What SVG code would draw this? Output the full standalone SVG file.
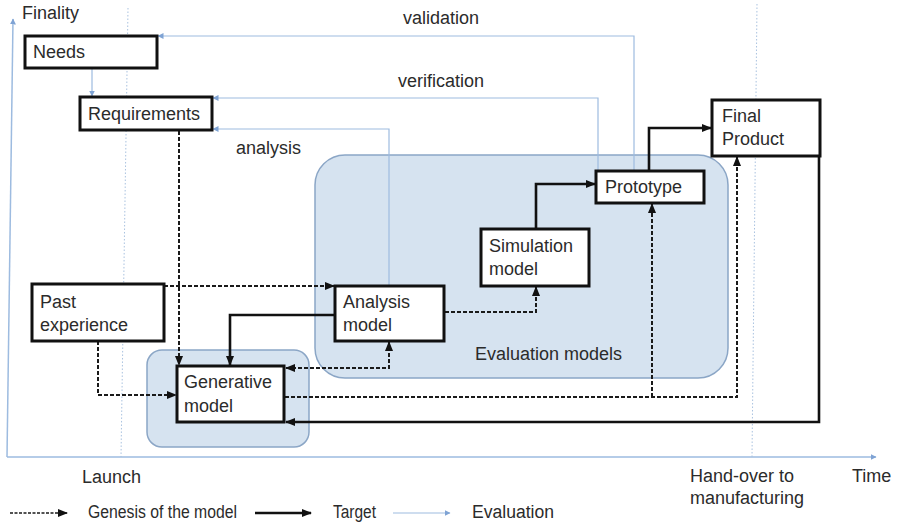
<svg xmlns="http://www.w3.org/2000/svg" width="898" height="527" viewBox="0 0 898 527">
  <style>
    text { font-family: "Liberation Sans", Arial, sans-serif; font-size: 18px; fill: #2b2b2b; }
    .box { fill: #ffffff; stroke: #111111; stroke-width: 3; }
    .zone { fill: #d6e3f0; stroke: #8ba6c6; stroke-width: 1.5; }
    .eval { fill: none; stroke: #9dbbe0; stroke-width: 1.2; }
    .axis { fill: none; stroke: #9dbbe0; stroke-width: 1.5; }
    .milestone { fill: none; stroke: #a9c2e0; stroke-width: 1; stroke-dasharray: 1.5 2; }
    .genesis { fill: none; stroke: #1a1a1a; stroke-width: 2; stroke-dasharray: 4 2; }
    .target { fill: none; stroke: #111111; stroke-width: 2.6; }
  </style>
  <defs>
    <marker id="ah-black" viewBox="0 0 10 8" refX="9" refY="4" markerWidth="10" markerHeight="8" markerUnits="userSpaceOnUse" orient="auto-start-reverse">
      <path d="M0,0 L10,4 L0,8 z" fill="#111111"/>
    </marker>
    <marker id="ah-blue" viewBox="0 0 6 6" refX="5.5" refY="3" markerWidth="6" markerHeight="6" markerUnits="userSpaceOnUse" orient="auto">
      <path d="M0,0 L6,3 L0,6 z" fill="#7fa3d4"/>
    </marker>
  </defs>

  <!-- axes and milestones -->
  <g id="axes">
    <path class="axis" d="M7,457 L13,19" marker-end="url(#ah-blue)"/>
    <path class="axis" d="M7,457 L876,457" marker-end="url(#ah-blue)"/>
    <path class="milestone" d="M128,8 L121,457"/>
    <path class="milestone" d="M757,4 L752,457"/>
    <text x="22" y="19">Finality</text>
    <text x="852" y="482">Time</text>
    <text x="82" y="483">Launch</text>
    <text x="690" y="482">Hand-over to</text>
    <text x="690" y="504">manufacturing</text>
  </g>

  <!-- model groupings -->
  <g id="evaluation-models">
    <rect class="zone" x="315" y="155" width="413" height="223" rx="30" ry="30"/>
    <text x="475" y="360">Evaluation models</text>
  </g>
  <g id="generative-zone">
    <rect class="zone" x="147" y="350" width="162" height="97" rx="15" ry="15"/>
  </g>

  <!-- connectors -->
  <g id="connectors">
    <!-- evaluation -->
    <path class="eval" d="M92,68 L92,96" marker-end="url(#ah-blue)"/>
    <path class="eval" d="M634,171 L634,36 L158,36" marker-end="url(#ah-blue)"/>
    <path class="eval" d="M598,171 L598,98 L213,98" marker-end="url(#ah-blue)"/>
    <path class="eval" d="M389,286 L389,129 L213,129" marker-end="url(#ah-blue)"/>
    <text x="403" y="24">validation</text>
    <text x="398" y="87">verification</text>
    <text x="236" y="154">analysis</text>

    <!-- genesis of the model -->
    <path class="genesis" d="M179,131 L179,365" marker-end="url(#ah-black)"/>
    <path class="genesis" d="M164,286 L334,286" marker-end="url(#ah-black)"/>
    <path class="genesis" d="M98,341 L98,395 L176,395" marker-end="url(#ah-black)"/>
    <path class="genesis" d="M286,368 L389,368 L389,342" marker-start="url(#ah-black)" marker-end="url(#ah-black)"/>
    <path class="genesis" d="M445,312 L536,312 L536,287" marker-end="url(#ah-black)"/>
    <path class="genesis" d="M285,397 L737,397 L737,157" marker-end="url(#ah-black)"/>
    <path class="genesis" d="M652,397 L652,204" marker-end="url(#ah-black)"/>

    <!-- target -->
    <path class="target" d="M335,315 L230,315 L230,365" marker-end="url(#ah-black)"/>
    <path class="target" d="M536,229 L536,184 L595,184" marker-end="url(#ah-black)"/>
    <path class="target" d="M649,171 L649,128 L711,128" marker-end="url(#ah-black)"/>
    <path class="target" d="M819,156 L819,422 L286,422" marker-end="url(#ah-black)"/>
  </g>

  <!-- nodes -->
  <g id="needs">
    <rect class="box" x="25" y="36" width="132" height="32"/>
    <text x="33" y="58">Needs</text>
  </g>
  <g id="requirements">
    <rect class="box" x="80" y="97" width="132" height="33"/>
    <text x="88" y="120">Requirements</text>
  </g>
  <g id="past-experience">
    <rect class="box" x="32" y="284" width="132" height="57"/>
    <text x="40" y="308">Past</text>
    <text x="40" y="331">experience</text>
  </g>
  <g id="generative-model">
    <rect class="box" x="177" y="366" width="107" height="56"/>
    <text x="184" y="388">Generative</text>
    <text x="184" y="412">model</text>
  </g>
  <g id="analysis-model">
    <rect class="box" x="335" y="286" width="109" height="55"/>
    <text x="343" y="308">Analysis</text>
    <text x="343" y="331">model</text>
  </g>
  <g id="simulation-model">
    <rect class="box" x="481" y="229" width="108" height="57"/>
    <text x="489" y="252">Simulation</text>
    <text x="489" y="275">model</text>
  </g>
  <g id="prototype">
    <rect class="box" x="596" y="171" width="108" height="32"/>
    <text x="605" y="193">Prototype</text>
  </g>
  <g id="final-product">
    <rect class="box" x="712" y="100" width="108" height="56"/>
    <text x="722" y="122">Final</text>
    <text x="722" y="145">Product</text>
  </g>

  <!-- legend -->
  <g id="legend">
    <path d="M10,513 L67,513" fill="none" stroke="#1a1a1a" stroke-width="1.5" stroke-dasharray="3 1.5" marker-end="url(#ah-black)"/>
    <text x="88" y="518" textLength="149" lengthAdjust="spacingAndGlyphs">Genesis of the model</text>
    <path class="target" d="M255,513 L311,513" marker-end="url(#ah-black)"/>
    <text x="333" y="518" textLength="43" lengthAdjust="spacingAndGlyphs">Target</text>
    <path class="eval" d="M393,513 L450,513" marker-end="url(#ah-blue)"/>
    <text x="472" y="518" textLength="82" lengthAdjust="spacingAndGlyphs">Evaluation</text>
  </g>
</svg>
